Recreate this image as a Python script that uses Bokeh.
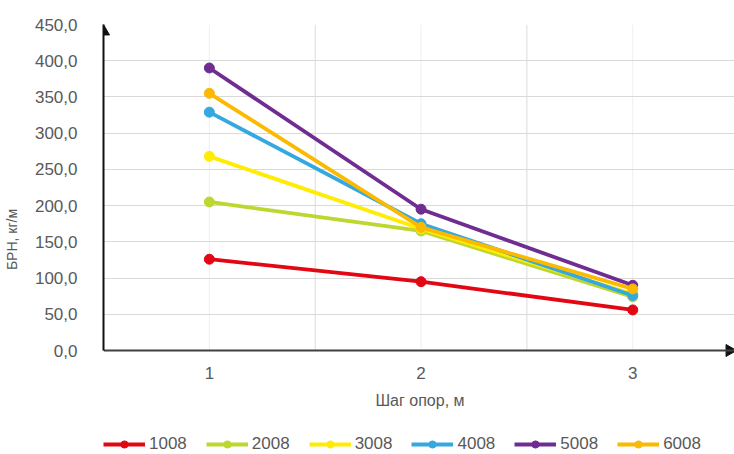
import math
from bokeh.plotting import figure
from bokeh.models import (FixedTicker, Legend, LegendItem, Range1d, ColumnDataSource)
from bokeh.embed import file_html
from bokeh.resources import INLINE

steps = [1, 2, 3]
series_names = ["1008", "2008", "3008", "4008", "5008", "6008"]
s1008 = [126, 95, 56]
s2008 = [205, 165, 74]
s3008 = [268, 168, 78]
s4008 = [329, 175, 76]
s5008 = [390, 195, 90]
s6008 = [355, 170, 85]
colors = ["#E30613", "#BED630", "#FFEC00", "#35A8E0", "#6F2C91", "#FBBA00"]
y_ticks = [0, 50, 100, 150, 200, 250, 300, 350, 400, 450]
y_tick_labels = ["0,0", "50,0", "100,0", "150,0", "200,0", "250,0", "300,0", "350,0", "400,0", "450,0"]
x_label = "Шаг опор, м"
y_label = "БРН, кг/м"

FONT = "Liberation Sans"
TXT = "#595959"

W, H = 734, 454
LEFT, TOP = 100, 24
FW = 633
PLOT_H = 326              # height of the 0..450 value area
FH = H - TOP              # frame extends down to the bottom to hold axis texts and legend
X0, X1 = 0.5, 3.49
Y0, Y1 = 0, 450
Y_BOTTOM = Y0 - (FH - PLOT_H) * (Y1 - Y0) / PLOT_H

p = figure(frame_width=FW, frame_height=FH, output_backend="svg", toolbar_location=None,
           x_range=Range1d(X0, X1), y_range=Range1d(Y_BOTTOM, Y1),
           min_border_left=LEFT, min_border_right=W - LEFT - FW, min_border_top=TOP,
           min_border_bottom=0)
p.outline_line_color = None
p.background_fill_color = "white"

p.xaxis.ticker = FixedTicker(ticks=steps)
p.xaxis.fixed_location = Y0
p.yaxis.ticker = FixedTicker(ticks=y_ticks)
p.yaxis.bounds = (Y0, Y1)
p.yaxis.major_label_overrides = {t: l for t, l in zip(y_ticks, y_tick_labels)}
p.xgrid.visible = False
p.ygrid.grid_line_color = "#D9D9D9"
p.ygrid.grid_line_width = 1.2

# vertical grid lines limited to the value area
p.segment(x0=steps, x1=steps, y0=[Y0] * len(steps), y1=[Y1] * len(steps),
          line_color="#EFEFEF", line_width=1, level="underlay")
mids = [1.5, 2.5]
p.segment(x0=mids, x1=mids, y0=[Y0] * len(mids), y1=[Y1] * len(mids),
          line_color="#DCDCDC", line_width=1, level="underlay")

for ax in (p.xaxis, p.yaxis):
    ax.major_tick_line_color = None
    ax.minor_tick_line_color = None
    ax.major_label_text_font = FONT
    ax.major_label_text_color = TXT
    ax.major_label_text_font_size = "17px"
    ax.axis_label_text_font = FONT
    ax.axis_label_text_color = TXT
    ax.axis_label_text_font_style = "normal"

p.yaxis.axis_line_color = "#111111"
p.yaxis.axis_line_width = 2
p.xaxis.axis_line_color = "#404040"
p.xaxis.axis_line_width = 2

p.yaxis.major_label_standoff = 20
p.yaxis.axis_label = y_label
p.yaxis.axis_label_text_font_size = "14px"
p.yaxis.axis_label_standoff = 12
p.xaxis.major_label_standoff = 10
p.xaxis.axis_label = x_label
p.xaxis.axis_label_text_font_size = "16px"
p.xaxis.axis_label_standoff = 10

# axis arrow heads (decoration at the ends of the axes)
px_x = FW / (X1 - X0)
px_y = PLOT_H / (Y1 - Y0)
p.scatter([X0], [Y1 - 7 / px_y], marker="triangle", size=12, fill_color="#111111", line_color="#111111")
p.scatter([X1 - 7 / px_x], [Y0], marker="triangle", size=12, angle=-math.pi / 2,
          fill_color="#111111", line_color="#111111")

data = [s1008, s2008, s3008, s4008, s5008, s6008]
items = []
for name, vals, c in zip(series_names, data, colors):
    src = ColumnDataSource(dict(x=steps, y=vals))
    l = p.line("x", "y", source=src, line_color=c, line_width=3.8)
    s = p.scatter("x", "y", source=src, size=10, fill_color=c, line_color=c)
    items.append(LegendItem(label=name, renderers=[l, s]))

legend = Legend(items=items, orientation="horizontal", location=(0, 0),
                label_text_font=FONT, label_text_color=TXT, label_text_font_size="17px",
                glyph_width=42, glyph_height=18, label_height=18, spacing=19, label_standoff=4,
                border_line_color=None, background_fill_alpha=0, padding=0, margin=0)
p.add_layout(legend, "center")

open("out.html", "w").write(file_html(p, INLINE))
